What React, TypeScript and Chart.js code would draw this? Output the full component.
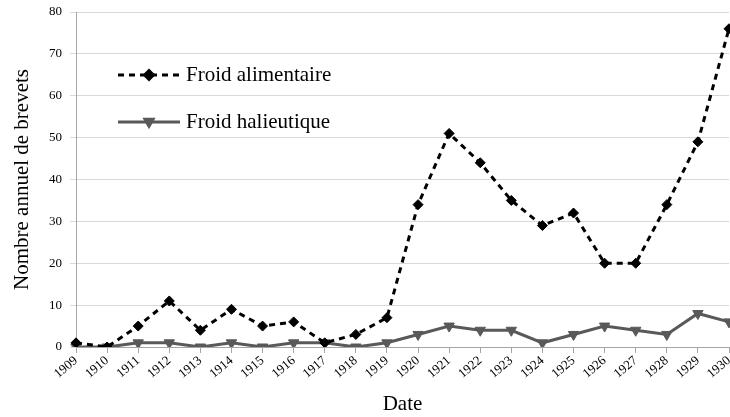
import React, { useEffect, useRef } from "react";
import { Chart, registerables } from "chart.js";

Chart.register(...registerables);

const years = ["1909","1910","1911","1912","1913","1914","1915","1916","1917","1918","1919","1920","1921","1922","1923","1924","1925","1926","1927","1928","1929","1930"];
const froidAlimentaire = [1,0,5,11,4,9,5,6,1,3,7,34,51,44,35,29,32,20,20,34,49,76];
const froidHalieutique = [0,0,1,1,0,1,0,1,1,0,1,3,5,4,4,1,3,5,4,3,8,6];
const seriesNames = ["Froid alimentaire", "Froid halieutique"];
const yMax = 80;
const yStep = 10;

const FONT = "'Liberation Serif', 'DejaVu Serif', serif";

const innerLegend = {
  id: "innerLegend",
  afterDraw(chart: any) {
    const { ctx, chartArea } = chart;
    const x0 = chartArea.left + 42;
    const x1 = chartArea.left + 104;
    const tx = chartArea.left + 110;
    const ys = [chartArea.top + 63, chartArea.top + 110];
    chart.data.datasets.forEach((ds: any, i: number) => {
      const y = ys[i];
      ctx.save();
      ctx.strokeStyle = ds.borderColor;
      ctx.lineWidth = ds.borderWidth;
      ctx.setLineDash(ds.borderDash || []);
      ctx.beginPath();
      ctx.moveTo(x0, y);
      ctx.lineTo(x1, y);
      ctx.stroke();
      ctx.setLineDash([]);
      ctx.fillStyle = ds.pointBackgroundColor;
      const mx = (x0 + x1) / 2;
      const r = ds.pointRadius;
      ctx.beginPath();
      if (ds.pointStyle === "rectRot") {
        ctx.moveTo(mx, y - r * 1.3);
        ctx.lineTo(mx + r * 1.3, y);
        ctx.lineTo(mx, y + r * 1.3);
        ctx.lineTo(mx - r * 1.3, y);
      } else {
        ctx.moveTo(mx - r * 1.1, y - r * 0.7);
        ctx.lineTo(mx + r * 1.1, y - r * 0.7);
        ctx.lineTo(mx, y + r * 1.2);
      }
      ctx.closePath();
      ctx.fill();
      ctx.fillStyle = "#000";
      ctx.font = "21px " + FONT;
      ctx.textBaseline = "middle";
      ctx.textAlign = "left";
      ctx.fillText(ds.label, tx, y);
      ctx.restore();
    });
  },
};

export default function App() {
  const ref = useRef<HTMLCanvasElement | null>(null);
  useEffect(() => {
    if (!ref.current) return;
    const chart = new Chart(ref.current, {
      type: "line",
      data: {
        labels: years,
        datasets: [
          {
            label: seriesNames[0],
            data: froidAlimentaire,
            borderColor: "#000000",
            backgroundColor: "#000000",
            pointBackgroundColor: "#000000",
            pointBorderColor: "#000000",
            borderWidth: 3,
            borderDash: [6, 5],
            pointStyle: "rectRot",
            pointRadius: 5,
            pointBorderWidth: 1,
            tension: 0,
          },
          {
            label: seriesNames[1],
            data: froidHalieutique,
            borderColor: "#595959",
            backgroundColor: "#595959",
            pointBackgroundColor: "#595959",
            pointBorderColor: "#595959",
            borderWidth: 3,
            pointStyle: "triangle",
            rotation: 180,
            pointRadius: 6,
            pointBorderWidth: 1,
            tension: 0,
          },
        ] as any,
      },
      options: {
        animation: false,
        responsive: false,
        maintainAspectRatio: false,
        layout: { autoPadding: false, padding: { top: 12, right: 1, left: 0, bottom: 0 } },
        plugins: {
          legend: { display: false },
          tooltip: { enabled: false },
        },
        scales: {
          x: {
            offset: false,
            afterFit(scale: any) {
              scale.height = 70;
              scale.paddingRight = 0;
            },
            grid: {
              display: true,
              drawOnChartArea: false,
              drawTicks: true,
              tickLength: 6,
              color: "#a6a6a6",
            },
            border: { display: true, color: "#a6a6a6", width: 1 },
            ticks: {
              color: "#000",
              font: { family: FONT, size: 13 },
              minRotation: 40,
              maxRotation: 40,
              autoSkip: false,
              padding: 0,
            },
            title: {
              display: true,
              text: "Date",
              color: "#000",
              font: { family: FONT, size: 21 },
              padding: { top: 2, bottom: 0 },
            },
          },
          y: {
            min: 0,
            max: yMax,
            afterFit(scale: any) {
              scale.width = 76;
              scale.paddingTop = 0;
            },
            grid: {
              color: "#d9d9d9",
              lineWidth: 1,
              drawTicks: true,
              tickLength: 6,
            },
            border: { display: true, color: "#a6a6a6", width: 1 },
            ticks: {
              stepSize: yStep,
              color: "#000",
              font: { family: FONT, size: 13 },
              padding: 8,
            },
            title: {
              display: true,
              text: "Nombre annuel de brevets",
              color: "#000",
              font: { family: FONT, size: 21 },
              padding: { top: 10, bottom: 6 },
            },
          },
        },
      },
      plugins: [innerLegend],
    });
    return () => chart.destroy();
  }, []);
  return (
    <div style={{ position: "absolute", left: 0, top: 0, width: 730, height: 417 }}>
      <canvas ref={ref} width={730} height={417} style={{ width: 730, height: 417, display: "block" }} />
    </div>
  );
}
